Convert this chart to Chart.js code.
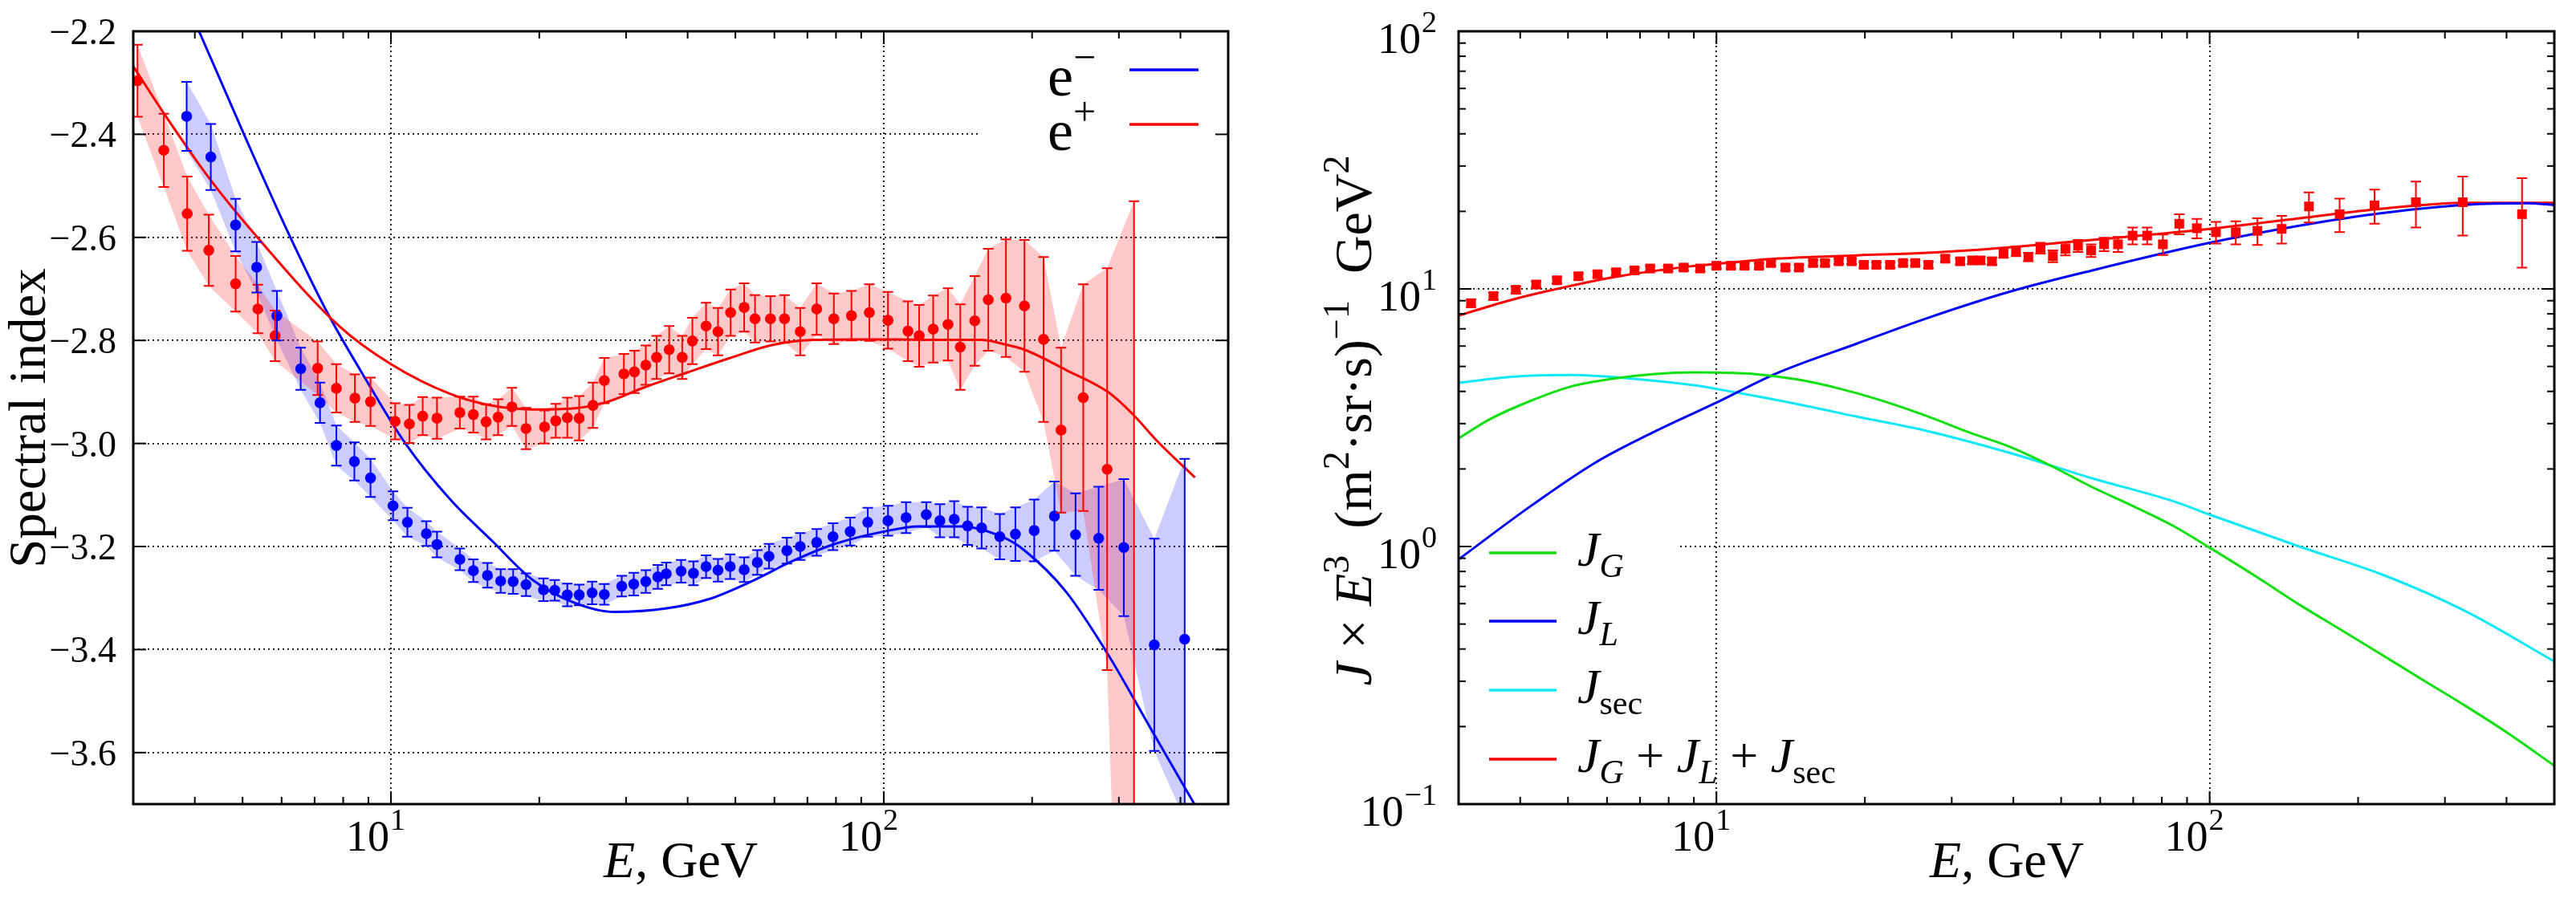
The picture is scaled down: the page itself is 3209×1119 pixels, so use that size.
<!DOCTYPE html>
<html>
<head>
<meta charset="utf-8">
<title>Spectral index / flux</title>
<script src="https://cdn.jsdelivr.net/npm/chart.js@4.4.1/dist/chart.umd.min.js"></script>
<style>
  html, body { margin: 0; padding: 0; background: #fff; }
  #panelL { position: absolute; left: 0; top: 0; }
  #panelR { position: absolute; left: 1600px; top: 0; }
</style>
</head>
<body>
<canvas id="panelL" width="1600" height="1119"></canvas>
<canvas id="panelR" width="1609" height="1119"></canvas>
<script>
// ---- left panel: spectral index, e+ (red) and e- (blue) ----
const posE   = [3.06,3.46,3.86,4.27,4.84,5.37,5.82,7.10,7.75,8.45,9.09,10.2,10.9,11.6,12.4,13.8,14.7,15.6,16.5,17.6,18.8,20.5,21.6,22.8,24.1,25.7,27.1,29.7,31.2,32.9,34.6,36.7,39.0,40.9,43.6,46.1,48.9,52.1,54.8,58.9,62.9,67.7,73.1,79.2,86.0,93.5,102,112,118,126,135,143,153,163,177,193,211,229,254,284,322];
const posVal = [-2.296,-2.431,-2.554,-2.625,-2.690,-2.739,-2.791,-2.854,-2.893,-2.912,-2.919,-2.957,-2.962,-2.947,-2.951,-2.940,-2.944,-2.958,-2.949,-2.929,-2.971,-2.968,-2.956,-2.950,-2.951,-2.926,-2.878,-2.865,-2.861,-2.848,-2.833,-2.818,-2.833,-2.801,-2.772,-2.783,-2.746,-2.736,-2.758,-2.758,-2.758,-2.783,-2.739,-2.758,-2.752,-2.746,-2.761,-2.782,-2.791,-2.778,-2.769,-2.813,-2.762,-2.721,-2.718,-2.733,-2.798,-2.974,-2.911,-3.050,-3.750];
const posErr = [0.070,0.071,0.072,0.069,0.054,0.047,0.049,0.052,0.047,0.046,0.047,0.035,0.037,0.037,0.040,0.031,0.035,0.034,0.035,0.037,0.040,0.032,0.033,0.039,0.043,0.044,0.044,0.039,0.041,0.038,0.042,0.046,0.042,0.045,0.045,0.046,0.045,0.047,0.046,0.044,0.046,0.046,0.050,0.049,0.048,0.055,0.055,0.058,0.060,0.065,0.070,0.083,0.087,0.099,0.114,0.128,0.160,0.160,0.220,0.390,1.220];

const eleE   = [3.85,4.31,4.84,5.34,5.87,6.56,7.18,7.75,8.43,9.09,10.1,10.8,11.8,12.4,13.8,14.7,15.7,16.7,17.7,18.8,20.4,21.5,22.8,24.1,25.6,27.1,29.4,31.1,32.9,34.8,36.2,38.8,41.1,43.6,46.1,48.8,52.1,55.4,58.5,63.6,67.7,73.1,78.9,85.5,92.8,102,111,122,130,139,148,158,172,185,202,222,245,273,307,354,408];
const eleVal = [-2.365,-2.444,-2.576,-2.658,-2.752,-2.855,-2.921,-3.004,-3.035,-3.067,-3.121,-3.153,-3.175,-3.196,-3.225,-3.247,-3.256,-3.267,-3.268,-3.274,-3.284,-3.285,-3.294,-3.294,-3.290,-3.293,-3.277,-3.273,-3.268,-3.259,-3.253,-3.248,-3.252,-3.239,-3.246,-3.239,-3.245,-3.231,-3.219,-3.208,-3.200,-3.192,-3.181,-3.171,-3.153,-3.150,-3.144,-3.138,-3.150,-3.147,-3.160,-3.164,-3.181,-3.176,-3.169,-3.141,-3.177,-3.184,-3.202,-3.391,-3.380];
const eleErr = [0.067,0.064,0.051,0.049,0.048,0.041,0.039,0.039,0.037,0.037,0.028,0.028,0.024,0.025,0.021,0.022,0.024,0.023,0.024,0.022,0.022,0.020,0.022,0.020,0.022,0.020,0.020,0.022,0.022,0.023,0.022,0.022,0.023,0.022,0.022,0.024,0.024,0.024,0.024,0.025,0.026,0.026,0.026,0.027,0.028,0.029,0.030,0.024,0.032,0.035,0.037,0.040,0.044,0.052,0.060,0.067,0.080,0.100,0.133,0.206,0.350];

const posFitE   = [3.0,3.46,4.27,5.37,7.87,10,13.2,15.9,19.4,23.4,27.1,32.9,40,48.8,59.3,72,87.8,107,130,158,175,193,234,286,320,361,428];
const posFitVal = [-2.268,-2.359,-2.484,-2.601,-2.773,-2.846,-2.904,-2.926,-2.934,-2.932,-2.921,-2.890,-2.862,-2.834,-2.809,-2.799,-2.798,-2.798,-2.799,-2.799,-2.807,-2.818,-2.857,-2.901,-2.943,-2.998,-3.066];
const eleFitE   = [3.0,3.5,4.08,5.07,6.14,7.43,9.0,10.7,13.2,16.0,19.4,23.4,28.4,36.3,44.2,53.8,65.4,79.6,100,118,143.5,174.6,192.7,234,285,347,427];
const eleFitVal = [-1.886,-2.047,-2.2,-2.407,-2.584,-2.746,-2.884,-3.0,-3.109,-3.188,-3.265,-3.308,-3.327,-3.320,-3.302,-3.268,-3.228,-3.195,-3.171,-3.161,-3.161,-3.182,-3.207,-3.287,-3.409,-3.551,-3.7];

// ---- right panel: J x E^3 components ----
const jgE   = [3.0,3.46,4.19,5.07,6.14,7.43,9.0,10,12.0,14.5,17.6,21.3,26.7,32.4,39.3,47.6,57.8,70.2,85.2,100,125.4,152,184.6,224,271.8,329.8,400.2,500];
const jgVal = [2.63,3.11,3.67,4.18,4.48,4.67,4.74,4.73,4.67,4.46,4.12,3.72,3.21,2.78,2.44,2.06,1.70,1.43,1.19,0.99,0.756,0.595,0.475,0.379,0.302,0.241,0.19,0.141];
const jlE   = [3.0,4.19,5.69,7.43,10,13.2,19.3,26.7,39.3,57.8,100,152,224,329.8,440.8,500];
const jlVal = [0.891,1.43,2.12,2.77,3.62,4.69,6.14,7.69,9.75,11.8,15.1,17.6,19.7,21.2,21.5,21.2];
const jsecE   = [3.0,3.81,5.07,6.76,9.0,10.9,14.5,19.3,26.7,39.3,57.8,85.2,100,152,224,329.8,500];
const jsecVal = [4.32,4.55,4.63,4.48,4.23,3.97,3.58,3.19,2.81,2.31,1.84,1.49,1.33,1.0,0.778,0.562,0.358];
const totE   = [3.0,3.81,4.61,6.14,9.0,10,13.2,19.3,26.7,39.3,57.8,100,152,224,329.8,500];
const totVal = [7.88,9.03,9.87,11.08,12.28,12.5,13.1,13.5,13.8,14.5,15.5,17.1,18.8,20.5,21.6,21.6];

const dataE   = [3.18,3.53,3.92,4.31,4.75,5.25,5.74,6.26,6.82,7.34,7.98,8.58,9.27,10.0,10.7,11.4,12.2,12.9,13.8,14.7,15.7,16.6,17.7,18.8,19.9,21.1,22.5,23.9,25.3,26.9,29.1,31.2,33.0,34.3,36.2,38.2,40.5,42.9,45.4,48.1,51.0,54.1,57.5,61.1,65.2,69.8,74.7,80.4,86.8,94.2,103,113,125,140,159,183.5,216,262,326,430];
const dataVal = [8.80,9.38,9.92,10.4,10.8,11.2,11.4,11.6,11.8,12.0,12.0,12.1,12.0,12.3,12.3,12.3,12.3,12.6,12.1,12.1,12.6,12.6,12.8,12.8,12.4,12.4,12.4,12.6,12.6,12.4,13.1,12.8,12.9,12.9,12.8,13.8,14.0,13.3,14.4,13.4,14.3,14.7,14.1,14.9,14.9,16.1,16.1,14.9,17.9,17.2,16.6,16.6,16.8,17.1,20.9,19.5,21.1,21.7,21.7,19.5];
const dataErr = [0.3,0.3,0.3,0.3,0.3,0.3,0.3,0.3,0.3,0.3,0.3,0.3,0.3,0.3,0.3,0.3,0.3,0.3,0.3,0.3,0.3,0.3,0.3,0.3,0.3,0.3,0.3,0.3,0.3,0.35,0.35,0.35,0.4,0.4,0.4,0.6,0.6,0.5,0.7,0.7,0.8,0.8,0.8,0.9,1.0,1.2,1.2,1.35,1.6,1.5,1.6,1.7,2.0,2.1,2.8,2.9,3.2,4.4,5.6,7.4];

// ---- ticks ----
const xDecades   = [10, 100];
const xMinor     = [4,5,6,7,8,9,20,30,40,50,60,70,80,90,200,300,400];
const leftYTicks = [-3.6,-3.4,-3.2,-3.0,-2.8,-2.6,-2.4,-2.2];
const rightYDecades = [0.1, 1, 10, 100];
const rightYMinor = [0.2,0.3,0.4,0.5,0.6,0.7,0.8,0.9,2,3,4,5,6,7,8,9,20,30,40,50,60,70,80,90];

const RED = '#ff0000', BLUE = '#0000ff', GREEN = '#10e010', CYAN = '#10e8f8';
const SERIF = '"Liberation Serif", "DejaVu Serif", serif';
const font = (px, it) => (it ? 'italic ' : '') + px + 'px ' + SERIF;
const pts = (xs, ys) => xs.map((x, i) => ({ x: x, y: ys[i] }));

function drawRich(ctx, segs, x, y, align) {
    let w = 0;
    segs.forEach(s => { ctx.font = s.f; w += ctx.measureText(s.t).width; });
    let cx = align === 'right' ? x - w : align === 'center' ? x - w / 2 : x;
    ctx.textAlign = 'left';
    ctx.textBaseline = 'alphabetic';
    segs.forEach(s => {
        ctx.font = s.f;
        ctx.fillText(s.t, cx, y + (s.dy || 0));
        cx += ctx.measureText(s.t).width;
    });
    return w;
}

function expText(v) {
    return String(Math.round(Math.log10(v))).replace('-', '\u2212');
}

// x-axis decade labels: "10" right-aligned on the tick, exponent after it
function xDecadeLabels(ctx, scale) {
    xDecades.forEach(v => {
        const p = scale.getPixelForValue(v);
        drawRich(ctx, [{ t: '10', f: font(54) }], p - 2, 1060, 'right');
        drawRich(ctx, [{ t: expText(v), f: font(38) }], p - 1, 1034, 'left');
    });
}

// gnuplot-like frame with inward ticks
const frameTicks = {
    id: 'frameTicks',
    afterDraw(chart, args, o) {
        const { ctx, chartArea: a, scales: { x, y } } = chart;
        ctx.save();
        ctx.strokeStyle = '#000';
        ctx.lineWidth = 2;
        const seg = (x1, y1, x2, y2) => { ctx.beginPath(); ctx.moveTo(x1, y1); ctx.lineTo(x2, y2); ctx.stroke(); };
        const xt = (vals, len) => vals.forEach(v => {
            const p = x.getPixelForValue(v);
            seg(p, a.bottom, p, a.bottom - len); seg(p, a.top, p, a.top + len);
        });
        const yt = (vals, len) => vals.forEach(v => {
            const p = y.getPixelForValue(v);
            seg(a.left, p, a.left + len, p); seg(a.right, p, a.right - len, p);
        });
        xt(o.xMajor || [], 16); xt(o.xMinor || [], 9);
        yt(o.yMajor || [], 16); yt(o.yMinor || [], 9);
        ctx.lineWidth = 3;
        ctx.strokeRect(a.left, a.top, a.right - a.left, a.bottom - a.top);
        ctx.restore();
    }
};

// vertical error bars with caps for datasets carrying an `errors` array
const errorBars = {
    id: 'errorBars',
    afterDatasetsDraw(chart) {
        const { ctx, chartArea: a, scales: { x, y } } = chart;
        ctx.save();
        ctx.beginPath(); ctx.rect(a.left, a.top, a.right - a.left, a.bottom - a.top); ctx.clip();
        chart.data.datasets.forEach(ds => {
            if (!ds.errors) return;
            ctx.strokeStyle = ds.backgroundColor;
            ctx.lineWidth = 2;
            ds.data.forEach((p, i) => {
                const px = x.getPixelForValue(p.x);
                const top = y.getPixelForValue(p.y + ds.errors[i]);
                const bot = y.getPixelForValue(p.y - ds.errors[i]);
                ctx.beginPath();
                ctx.moveTo(px, top); ctx.lineTo(px, bot);
                ctx.moveTo(px - 6.5, top); ctx.lineTo(px + 6.5, top);
                ctx.moveTo(px - 6.5, bot); ctx.lineTo(px + 6.5, bot);
                ctx.stroke();
            });
        });
        ctx.restore();
    }
};

const band = (xs, ys, es, sign, color, fill) => ({
    data: xs.map((x, i) => ({ x: x, y: ys[i] + sign * es[i] })),
    borderWidth: 0, borderColor: 'transparent', backgroundColor: color,
    pointRadius: 0, tension: 0, fill: fill, order: 20
});
const curve = (xs, ys, color) => ({
    data: pts(xs, ys), borderColor: color, borderWidth: 3, pointRadius: 0,
    cubicInterpolationMode: 'monotone', fill: false, order: 10
});

const baseOptions = (padRight) => ({
    responsive: false, animation: false, devicePixelRatio: 1, events: [],
    layout: { padding: { left: 0, right: padRight, top: 39, bottom: 0 }, autoPadding: false },
    plugins: { legend: { display: false }, tooltip: { enabled: false } }
});
const gridStyle = { color: '#000', lineWidth: 1.8, drawTicks: false };
const borderStyle = { display: false, dash: [2, 4] };

// ── LEFT CHART ───────────────────────────────────────────
const optsL = baseOptions(70);
optsL.plugins.frameTicks = { xMajor: xDecades, xMinor: xMinor, yMajor: leftYTicks };
optsL.scales = {
    x: {
        type: 'logarithmic', min: 3, max: 500,
        afterBuildTicks: s => { s.ticks = xDecades.map(v => ({ value: v })); },
        afterFit: s => { s.height = 117; },
        ticks: { display: false }, grid: gridStyle, border: borderStyle
    },
    y: {
        type: 'linear', min: -3.7, max: -2.2,
        afterBuildTicks: s => { s.ticks = leftYTicks.map(v => ({ value: v })); },
        afterFit: s => { s.width = 166; },
        ticks: { display: false }, grid: gridStyle, border: borderStyle
    }
};

new Chart(document.getElementById('panelL'), {
    type: 'line',
    data: {
        datasets: [
            band(posE, posVal, posErr, 1, 'rgba(255,0,0,0.21)', false),
            band(posE, posVal, posErr, -1, 'rgba(255,0,0,0.21)', '-1'),
            band(eleE, eleVal, eleErr, 1, 'rgba(0,0,255,0.2)', false),
            band(eleE, eleVal, eleErr, -1, 'rgba(0,0,255,0.2)', '-1'),
            curve(posFitE, posFitVal, RED),
            curve(eleFitE, eleFitVal, BLUE),
            { data: pts(posE, posVal), errors: posErr, showLine: false, pointRadius: 6.8,
              backgroundColor: RED, borderWidth: 0, clip: 0, order: 2 },
            { data: pts(eleE, eleVal), errors: eleErr, showLine: false, pointRadius: 6.8,
              backgroundColor: BLUE, borderWidth: 0, clip: 0, order: 1 }
        ]
    },
    options: optsL,
    plugins: [frameTicks, errorBars, {
        id: 'decorL',
        beforeDatasetsDraw(chart) {
            const { ctx, chartArea: a } = chart;
            ctx.save();
            ctx.fillStyle = '#fff';
            ctx.fillRect(1220, a.top + 3, a.right - 1220 - 2, 190);
            ctx.restore();
        },
        afterDraw(chart) {
            const { ctx, scales: { x, y } } = chart;
            ctx.save();
            ctx.fillStyle = '#000';
            leftYTicks.forEach(v => {
                drawRich(ctx, [{ t: '\u2212' + Math.abs(v).toFixed(1), f: font(46) }], 145, y.getPixelForValue(v) + 16, 'right');
            });
            xDecadeLabels(ctx, x);
            drawRich(ctx, [{ t: 'E', f: font(64, true) }, { t: ', GeV', f: font(64) }], 848, 1093, 'center');
            ctx.save();
            ctx.translate(56, 521);
            ctx.rotate(-Math.PI / 2);
            drawRich(ctx, [{ t: 'Spectral index', f: font(65) }], 0, 0, 'center');
            ctx.restore();
            // key
            [['\u2212', BLUE, 87], ['+', RED, 155]].forEach(([sup, col, ly]) => {
                ctx.fillStyle = '#000';
                drawRich(ctx, [{ t: 'e', f: font(72) }, { t: sup, f: font(50), dy: -31 }], 1305, ly + 32, 'left');
                ctx.strokeStyle = col; ctx.lineWidth = 3.5;
                ctx.beginPath(); ctx.moveTo(1407, ly); ctx.lineTo(1493, ly); ctx.stroke();
            });
            ctx.restore();
        }
    }]
});

// ── RIGHT CHART ──────────────────────────────────────────
const optsR = baseOptions(27);
optsR.plugins.frameTicks = { xMajor: xDecades, xMinor: xMinor, yMajor: rightYDecades, yMinor: rightYMinor };
optsR.scales = {
    x: {
        type: 'logarithmic', min: 3, max: 500,
        afterBuildTicks: s => { s.ticks = xDecades.map(v => ({ value: v })); },
        afterFit: s => { s.height = 117; },
        ticks: { display: false }, grid: gridStyle, border: borderStyle
    },
    y: {
        type: 'logarithmic', min: 0.1, max: 100,
        afterBuildTicks: s => { s.ticks = rightYDecades.map(v => ({ value: v })); },
        afterFit: s => { s.width = 217; },
        ticks: { display: false }, grid: gridStyle, border: borderStyle
    }
};

const legendR = [
    { color: GREEN, y: 689, sub: [['G', true]] },
    { color: BLUE,  y: 774, sub: [['L', true]] },
    { color: CYAN,  y: 860, sub: [['sec', false]] },
    { color: RED,   y: 946, sub: [['G', true], ['L', true], ['sec', false]] }
];

new Chart(document.getElementById('panelR'), {
    type: 'line',
    data: {
        datasets: [
            curve(jgE, jgVal, GREEN),
            curve(jlE, jlVal, BLUE),
            curve(jsecE, jsecVal, CYAN),
            curve(totE, totVal, RED),
            { data: pts(dataE, dataVal), errors: dataErr, showLine: false, pointStyle: 'rect',
              pointRadius: 8.5, backgroundColor: RED, borderWidth: 0, clip: 0, order: 1 }
        ]
    },
    options: optsR,
    plugins: [frameTicks, errorBars, {
        id: 'decorR',
        beforeDatasetsDraw(chart) {
            const { ctx, chartArea: a } = chart;
            ctx.save();
            ctx.fillStyle = '#fff';
            ctx.fillRect(a.left + 2, 600, 487 - a.left, a.bottom - 602);
            ctx.restore();
        },
        afterDraw(chart) {
            const { ctx, scales: { x, y } } = chart;
            ctx.save();
            ctx.fillStyle = '#000';
            rightYDecades.forEach(v => {
                const p = y.getPixelForValue(v);
                const w = drawRich(ctx, [{ t: expText(v), f: font(38) }], 190, p + 1, 'right');
                drawRich(ctx, [{ t: '10', f: font(54) }], 190 - w - 1, p + 27, 'right');
            });
            xDecadeLabels(ctx, x);
            drawRich(ctx, [{ t: 'E', f: font(64, true) }, { t: ', GeV', f: font(64) }], 900, 1093, 'center');
            ctx.save();
            ctx.translate(108, 524);
            ctx.rotate(-Math.PI / 2);
            const M = font(66), S = font(46);
            drawRich(ctx, [
                { t: 'J', f: font(66, true) }, { t: ' \u00d7 ', f: M }, { t: 'E', f: font(66, true) },
                { t: '3', f: S, dy: -28 }, { t: '  (m', f: M }, { t: '2', f: S, dy: -28 },
                { t: '\u00b7sr\u00b7s)', f: M }, { t: '\u22121', f: S, dy: -28 },
                { t: '  GeV', f: M }, { t: '2', f: S, dy: -28 }
            ], 0, 0, 'center');
            ctx.restore();
            // key
            legendR.forEach(item => {
                ctx.strokeStyle = item.color; ctx.lineWidth = 3.5;
                ctx.beginPath(); ctx.moveTo(255, item.y); ctx.lineTo(339, item.y); ctx.stroke();
                const segs = [];
                item.sub.forEach((s, i) => {
                    if (i > 0) segs.push({ t: ' + ', f: font(62) });
                    segs.push({ t: 'J', f: font(62, true) });
                    segs.push({ t: s[0], f: font(42, s[1]), dy: 14 });
                });
                ctx.fillStyle = '#000';
                drawRich(ctx, segs, 365, item.y + 16, 'left');
            });
            ctx.restore();
        }
    }]
});
</script>
</body>
</html>
